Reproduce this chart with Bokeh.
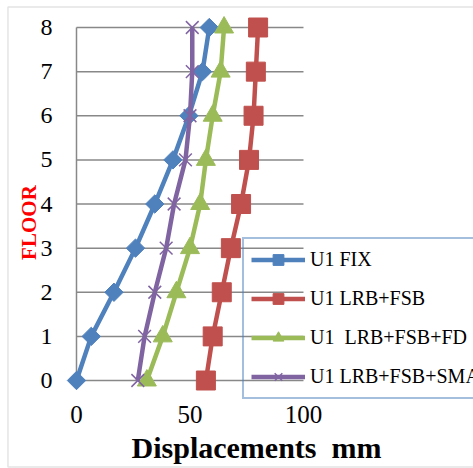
import numpy as np
from bokeh.plotting import figure
from bokeh.models import Legend, LegendItem, BoxAnnotation
from bokeh.core.properties import value
from bokeh.embed import file_html
from bokeh.resources import INLINE

floors = [0, 1, 2, 3, 4, 5, 6, 7, 8]
u1_fix = [0, 6.5, 16.5, 26, 34.5, 42.5, 49.5, 55.5, 58.5]
u1_lrb_fsb = [57, 60, 64, 68, 72.5, 76, 78, 79, 80]
u1_lrb_fsb_fd = [31, 38, 44, 50, 54.5, 57, 60, 63.5, 65]
u1_lrb_fsb_sma = [27, 30, 34.5, 39.5, 43, 48, 50, 51, 51]
x_ticks = [0, 50, 100]
x_tick_labels = ["0", "50", "100"]
y_ticks = floors
y_tick_labels = [str(f) for f in floors]

BLUE = "#4f81bd"
RED = "#c0504d"
GREEN = "#9bbb59"
PURPLE = "#8064a2"
GRID = "#888888"
FONT = "Liberation Serif"

# frame covers the whole canvas: 0 mm -> 76 px, 100 mm -> 303 px; floor 0 -> 380 px, floor 8 -> 27 px
p = figure(width=473, height=468, x_range=(-33.48, 174.89), y_range=(-1.994, 8.612),
           output_backend="svg", toolbar_location=None,
           min_border_left=0, min_border_right=0, min_border_top=0, min_border_bottom=0)
p.outline_line_color = None
p.grid.visible = False
p.axis.visible = False

# outer chart border
p.add_layout(BoxAnnotation(left=-30.2, right=200, top=8.465, bottom=-1.96,
                           fill_alpha=0, line_color="#a6a6a6", line_width=1.5))

# gridlines and vertical axis line
p.segment(x0=[min(x_ticks)] * len(y_ticks), x1=[max(x_ticks)] * len(y_ticks),
          y0=y_ticks, y1=y_ticks, line_color=GRID, line_width=1.5)
p.segment(x0=[min(x_ticks)], x1=[min(x_ticks)], y0=[min(y_ticks)], y1=[max(y_ticks)],
          line_color=GRID, line_width=1.5)

# tick labels
p.text(x=x_ticks, y=[-0.77] * len(x_ticks), text=x_tick_labels,
       text_align="center", text_baseline="middle",
       text_font=value(FONT), text_font_size="25px", text_color="black")
p.text(x=[-10.6] * len(y_ticks), y=y_ticks, text=y_tick_labels,
       text_align="right", text_baseline="middle",
       text_font=value(FONT), text_font_size="24px", text_color="black")

series = [
    ("U1 FIX", u1_fix, BLUE, dict(marker="square", size=13, angle=np.pi / 4)),
    ("U1 LRB+FSB", u1_lrb_fsb, RED, dict(marker="square", size=19)),
    ("U1 \u00a0LRB+FSB+FD", u1_lrb_fsb_fd, GREEN, dict(marker="triangle", size=19)),
    ("U1 LRB+FSB+SMA", u1_lrb_fsb_sma, PURPLE, dict(marker="x", size=18)),
]

items = []
for name, xs, col, mk in series:
    lr = p.line(xs, floors, line_color=col, line_width=4.5)
    if mk["marker"] == "x":
        sr = p.scatter(xs, floors, line_color=col, line_width=1.5, **mk)
    else:
        sr = p.scatter(xs, floors, fill_color=col, line_color=col, line_width=1, **mk)
    items.append(LegendItem(label=name, renderers=[lr, sr]))

legend = Legend(items=items, location=(242, 69), orientation="vertical",
                padding=7, spacing=12, margin=0,
                label_height=27, glyph_height=27, glyph_width=54, label_standoff=5,
                label_text_font=FONT, label_text_font_size="20px", label_text_color="black",
                border_line_color="#4a7ebb", border_line_width=2,
                background_fill_alpha=0)
p.add_layout(legend, "center")

# axis titles
p.text(x=[-20.93], y=[3.58], text=["FLOOR"], angle=np.pi / 2,
       text_align="center", text_baseline="middle",
       text_font=value(FONT), text_font_style="bold", text_font_size="21px",
       text_color="red")
p.text(x=[79.3], y=[-1.518], text=["Displacements \u00a0mm"],
       text_align="center", text_baseline="middle",
       text_font=value(FONT), text_font_style="bold", text_font_size="30px",
       text_color="black")

open("out.html", "w").write(file_html(p, INLINE))
